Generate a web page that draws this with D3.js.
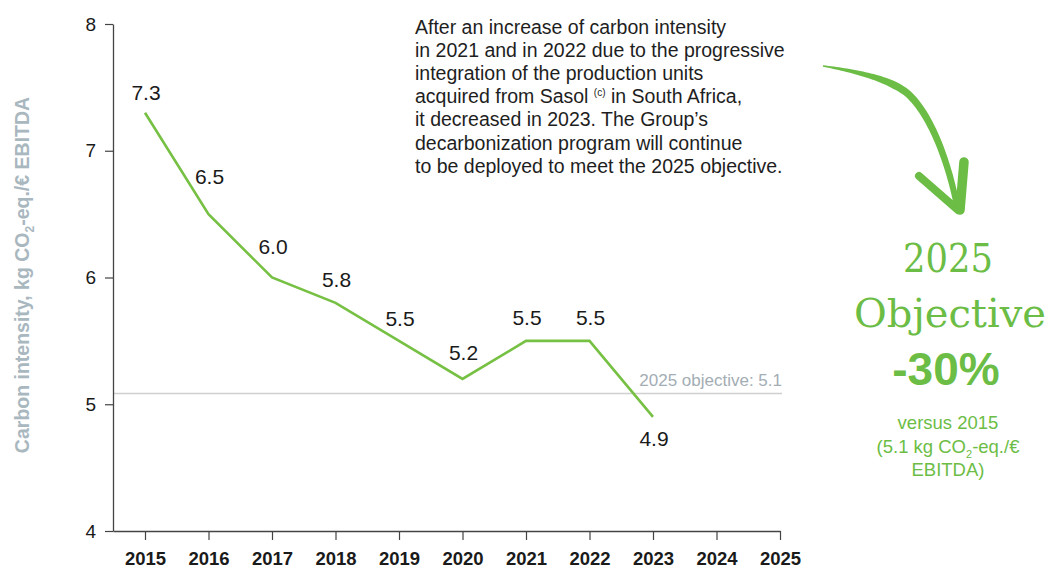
<!DOCTYPE html>
<html>
<head>
<meta charset="utf-8">
<script src="https://cdn.jsdelivr.net/npm/d3@7"></script>
<style>
  html, body { margin: 0; padding: 0; background: #fff; }
  svg { display: block; }
  text { font-family: "Liberation Sans", Arial, sans-serif; }
</style>
</head>
<body>
<svg id="chart" width="1051" height="571"></svg>
<script>
// ---- data ----
const years = [2015, 2016, 2017, 2018, 2019, 2020, 2021, 2022, 2023];
const intensity = [7.3, 6.5, 6.0, 5.8, 5.5, 5.2, 5.5, 5.5, 4.9];
const axisYears = [2015, 2016, 2017, 2018, 2019, 2020, 2021, 2022, 2023, 2024, 2025];
const yTicks = [4, 5, 6, 7, 8];
const objectiveValue = 5.1;
const objectiveLabel = "2025 objective: 5.1";
const noteLines = [
  "After an increase of carbon intensity",
  "in 2021 and in 2022 due to the progressive",
  "integration of the production units",
  "acquired from Sasol|(c)| in South Africa,",
  "it decreased in 2023. The Group\u2019s",
  "decarbonization program will continue",
  "to be deployed to meet the 2025 objective."
];

// ---- layout ----
const green = "#6cbd45";
const svg = d3.select("#chart");
const x = d3.scaleLinear().domain([2014.496, 2025]).range([113, 780]);
const y = d3.scaleLinear().domain([4, 8]).range([531, 24]);
// label offsets above (negative = above) each point, in px
const labelDy = [-13, -30, -24, -16, -15, -19, -16, -16, 29];

// objective line
svg.append("line")
  .attr("x1", x.range()[0]).attr("x2", x.range()[1] + 2)
  .attr("y1", y(objectiveValue) + 2).attr("y2", y(objectiveValue) + 2)
  .attr("stroke", "#d0d0d0").attr("stroke-width", 1.5);
svg.append("text")
  .attr("x", x(2025) + 2).attr("y", y(objectiveValue) - 6)
  .attr("text-anchor", "end")
  .attr("font-size", 17).attr("fill", "#a3adb4")
  .text(objectiveLabel);

// axes
const yAxis = svg.append("g")
  .attr("transform", `translate(${x.range()[0]},0)`)
  .call(d3.axisLeft(y).tickValues(yTicks).tickFormat(d3.format("d")).tickSize(8).tickSizeOuter(0).tickPadding(9));
const xAxis = svg.append("g")
  .attr("transform", `translate(0,${y(4)})`)
  .call(d3.axisBottom(x).tickValues(axisYears).tickFormat(d3.format("d")).tickSize(9).tickSizeOuter(0).tickPadding(12));
[yAxis, xAxis].forEach(g => {
  g.select(".domain").attr("stroke", "#444").attr("stroke-width", 1.3);
  g.selectAll(".tick line").attr("stroke", "#444").attr("stroke-width", 1.2);
  g.selectAll("text").attr("fill", "#1a1a1a").style("font-family", "'Liberation Sans', Arial, sans-serif");
});
yAxis.selectAll("text").attr("font-size", 19);
xAxis.selectAll("text").attr("font-size", 18.5).attr("font-weight", "bold");

// y-axis title
const yt = svg.append("text")
  .attr("transform", `translate(29,275) rotate(-90)`)
  .attr("text-anchor", "middle")
  .attr("font-size", 19.5).attr("font-weight", "bold").attr("fill", "#a9b7bf");
yt.append("tspan").text("Carbon intensity, kg CO");
yt.append("tspan").attr("font-size", 12).attr("dy", 5).text("2");
yt.append("tspan").attr("dy", -5).text("-eq./\u20ac EBITDA");

// line
const pts = years.map((yr, i) => [yr, intensity[i]]);
svg.append("path")
  .datum(pts)
  .attr("fill", "none")
  .attr("stroke", "#76c043")
  .attr("stroke-width", 2.6)
  .attr("stroke-linejoin", "miter")
  .attr("d", d3.line().x(d => x(d[0])).y(d => y(d[1])));

// data labels
svg.selectAll("text.val")
  .data(pts)
  .join("text")
  .attr("class", "val")
  .attr("x", d => x(d[0]) + 1)
  .attr("y", (d, i) => y(d[1]) + labelDy[i])
  .attr("text-anchor", "middle")
  .attr("font-size", 21).attr("fill", "#1a1a1a")
  .text(d => d3.format(".1f")(d[1]));

// note
const note = svg.append("text").attr("font-size", 19.5).attr("fill", "#1e1e1e");
noteLines.forEach((ln, i) => {
  const parts = ln.split("|");
  const t = note.append("tspan").attr("x", 415).attr("y", 34 + i * 23.1);
  if (parts.length === 1) { t.text(ln); }
  else {
    t.text(parts[0] + " ");
    note.append("tspan").attr("font-size", 10).attr("dy", -7).text(parts[1]);
    note.append("tspan").attr("dy", 7).text(" " + parts[2].trim());
  }
});

// arrow (tapered brush stroke)
const tmp = svg.append("path")
  .attr("d", "M823,66 C868,73 893,82 907,93 C930,113 948,160 957,206")
  .attr("fill", "none").attr("stroke", "none");
const node = tmp.node();
const L = node.getTotalLength();
const N = 80, left = [], right = [];
for (let i = 0; i <= N; i++) {
  const t = i / N;
  const p = node.getPointAtLength(t * L);
  const p2 = node.getPointAtLength(Math.min(L, t * L + 0.5));
  const p1 = node.getPointAtLength(Math.max(0, t * L - 0.5));
  let dx = p2.x - p1.x, dy = p2.y - p1.y;
  const m = Math.hypot(dx, dy) || 1; dx /= m; dy /= m;
  const w = (t < 0.35 ? 1.5 + 6 * (t / 0.35) : 7.5 - 1.5 * (t - 0.35) / 0.65) / 2;
  left.push([p.x - dy * w, p.y + dx * w]);
  right.push([p.x + dy * w, p.y - dx * w]);
}
tmp.remove();
svg.append("path")
  .attr("d", d3.line()(left.concat(right.reverse())) + "Z")
  .attr("fill", green);
svg.append("line").attr("x1", 919).attr("y1", 176).attr("x2", 958).attr("y2", 210)
  .attr("stroke", green).attr("stroke-width", 8).attr("stroke-linecap", "round");
svg.append("line").attr("x1", 964).attr("y1", 162).attr("x2", 960).attr("y2", 210)
  .attr("stroke", green).attr("stroke-width", 9.5).attr("stroke-linecap", "round");

// objective block
const cx = 948;
svg.append("text").attr("x", cx).attr("y", 272).attr("text-anchor", "middle")
  .attr("font-size", 40).attr("fill", green)
  .attr("textLength", 90).attr("lengthAdjust", "spacingAndGlyphs")
  .style("font-family", "'DejaVu Serif', serif").text("2025");
svg.append("text").attr("x", cx + 2).attr("y", 327).attr("text-anchor", "middle")
  .attr("font-size", 40).attr("fill", green)
  .style("font-family", "'DejaVu Serif', serif").text("Objective");
svg.append("text").attr("x", cx - 2).attr("y", 385).attr("text-anchor", "middle")
  .attr("font-size", 46).attr("font-weight", "bold").attr("fill", green).text("-30%");
svg.append("text").attr("x", cx).attr("y", 429).attr("text-anchor", "middle")
  .attr("font-size", 18.5).attr("fill", green).text("versus 2015");
const sub = svg.append("text").attr("x", cx).attr("y", 453).attr("text-anchor", "middle")
  .attr("font-size", 18.5).attr("fill", green);
sub.append("tspan").text("(5.1 kg CO");
sub.append("tspan").attr("font-size", 11).attr("dy", 5).text("2");
sub.append("tspan").attr("dy", -5).text("-eq./\u20ac");
svg.append("text").attr("x", cx).attr("y", 476).attr("text-anchor", "middle")
  .attr("font-size", 18.5).attr("fill", green).text("EBITDA)");
</script>
</body>
</html>
